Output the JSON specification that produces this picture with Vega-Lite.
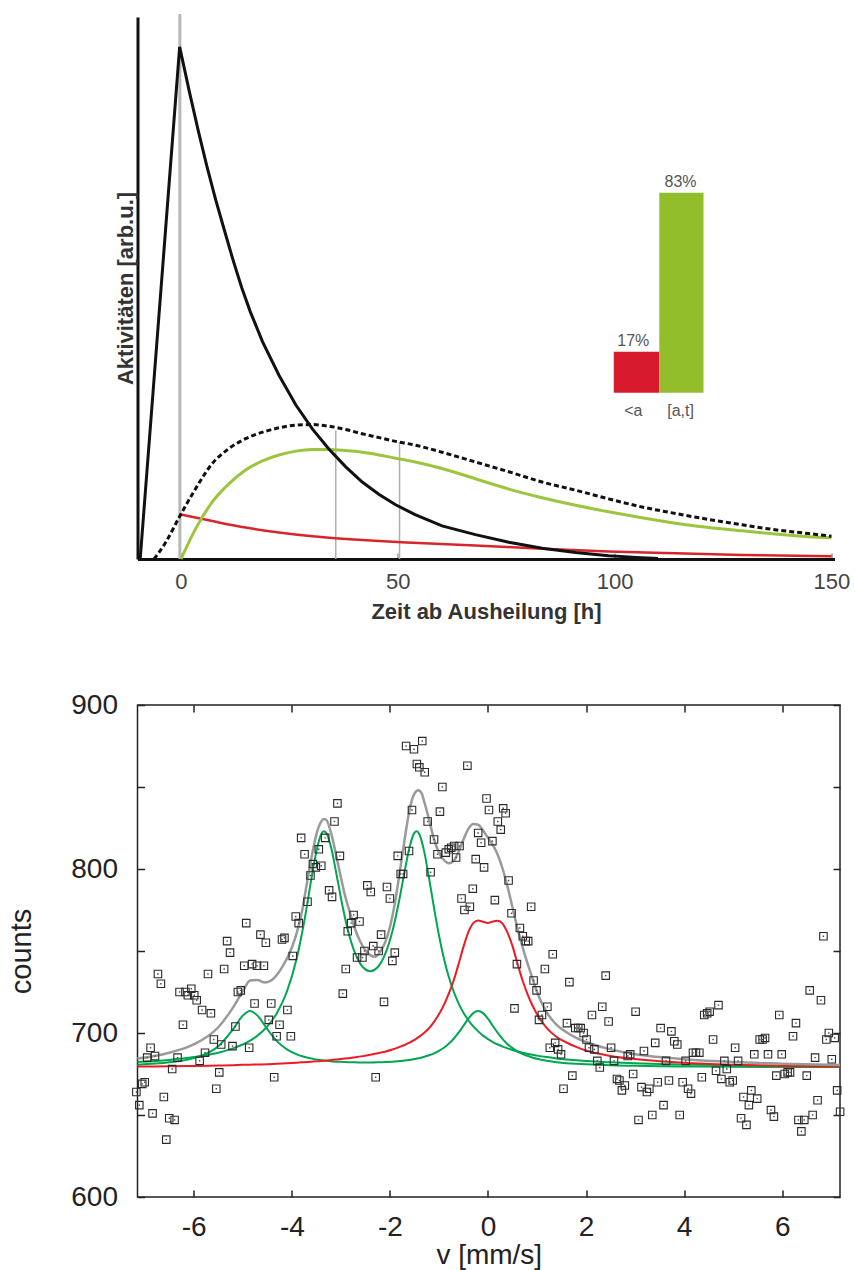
{
  "$schema": "https://vega.github.io/schema/vega-lite/v6.json",
  "background": "white",
  "padding": {"left": 6.5, "top": 12, "right": 5, "bottom": 5},
  "bounds": "flush",
  "spacing": 146,
  "config": {"view": {"stroke": null}, "font": "Liberation Sans"},
  "datasets": {
    "marker": [{"t": -0.25, "top": 100.55}],
    "drops": [{"t": 35.7, "top": 23.7}, {"t": 50.4, "top": 21.6}],
    "parent": [
      {"t": -9.4, "a": 0}, {"t": -0.3, "a": 94.5}, {"t": 2, "a": 86}, {"t": 4, "a": 79},
      {"t": 6, "a": 72.4}, {"t": 8, "a": 66.3}, {"t": 10, "a": 60.7}, {"t": 12, "a": 55.2},
      {"t": 14, "a": 50.1}, {"t": 16, "a": 45.6}, {"t": 18.8, "a": 40.1}, {"t": 22.6, "a": 33.9},
      {"t": 26.5, "a": 28.4}, {"t": 30.3, "a": 24.0}, {"t": 34.1, "a": 20.3}, {"t": 38, "a": 17.0},
      {"t": 41.8, "a": 14.2}, {"t": 45.7, "a": 11.9}, {"t": 49.5, "a": 10.0}, {"t": 54, "a": 8.2},
      {"t": 60.2, "a": 6.1}, {"t": 67.9, "a": 4.5}, {"t": 75.6, "a": 3.1}, {"t": 83.3, "a": 2.0},
      {"t": 91, "a": 1.2}, {"t": 98.6, "a": 0.6}, {"t": 105, "a": 0.3}, {"t": 110, "a": 0.1}
    ],
    "sum": [
      {"t": -6.2, "a": 0}, {"t": -3.5, "a": 3.1}, {"t": -0.4, "a": 7.7}, {"t": 3.4, "a": 13},
      {"t": 7.2, "a": 17.6}, {"t": 11.1, "a": 20.4}, {"t": 14.9, "a": 22.2}, {"t": 18.8, "a": 23.4},
      {"t": 22.6, "a": 24.2}, {"t": 26.5, "a": 24.7}, {"t": 30.3, "a": 24.8}, {"t": 34.1, "a": 24.5},
      {"t": 38, "a": 23.9}, {"t": 41.8, "a": 23.1}, {"t": 45.7, "a": 22.4}, {"t": 49.5, "a": 21.7},
      {"t": 53.5, "a": 21.1}, {"t": 60.2, "a": 19.7}, {"t": 67.9, "a": 17.9}, {"t": 75.6, "a": 16.1},
      {"t": 83.3, "a": 14.2}, {"t": 91, "a": 12.7}, {"t": 98.6, "a": 11.1}, {"t": 106.3, "a": 9.6},
      {"t": 114, "a": 8.4}, {"t": 121.7, "a": 7.3}, {"t": 129.4, "a": 6.3}, {"t": 137, "a": 5.4},
      {"t": 144.7, "a": 4.7}, {"t": 150, "a": 4.2}
    ],
    "late": [
      {"t": 0, "a": 0}, {"t": 3.4, "a": 5.6}, {"t": 7.2, "a": 10.5}, {"t": 11.1, "a": 13.9},
      {"t": 14.9, "a": 16.4}, {"t": 18.8, "a": 18.1}, {"t": 22.6, "a": 19.2}, {"t": 26.5, "a": 19.9},
      {"t": 30.3, "a": 20.2}, {"t": 34.1, "a": 20.2}, {"t": 38, "a": 20.0}, {"t": 41.8, "a": 19.7},
      {"t": 45.7, "a": 19.2}, {"t": 49.5, "a": 18.6}, {"t": 53.5, "a": 18.0}, {"t": 60.2, "a": 16.7},
      {"t": 67.9, "a": 14.8}, {"t": 75.6, "a": 12.9}, {"t": 83.3, "a": 11.3}, {"t": 91, "a": 9.9},
      {"t": 98.6, "a": 8.7}, {"t": 106.3, "a": 7.6}, {"t": 114, "a": 6.6}, {"t": 121.7, "a": 5.8},
      {"t": 129.4, "a": 5.2}, {"t": 137, "a": 4.6}, {"t": 144.7, "a": 4.1}, {"t": 150, "a": 3.9}
    ],
    "early": [
      {"t": 0, "a": 8.2}, {"t": 7.2, "a": 7.0}, {"t": 14.9, "a": 5.8}, {"t": 22.6, "a": 4.9},
      {"t": 30.3, "a": 4.2}, {"t": 38, "a": 3.7}, {"t": 45.7, "a": 3.3}, {"t": 53.5, "a": 3.0},
      {"t": 67.9, "a": 2.5}, {"t": 83.3, "a": 1.9}, {"t": 98.6, "a": 1.4}, {"t": 114, "a": 1.05},
      {"t": 129.4, "a": 0.75}, {"t": 150, "a": 0.5}
    ],
    "shares": [
      {"grp": "<a", "share": 0.17, "t0": 99.8, "t1": 110.3, "tmid": 104.3},
      {"grp": "[a,t]", "share": 0.83, "t0": 110.3, "t1": 120.5, "tmid": 115.2}
    ],
    "counts": [
      {"v": -7.17, "c": 664}, {"v": -7.11, "c": 656}, {"v": -7.05, "c": 669}, {"v": -7.0, "c": 670},
      {"v": -6.95, "c": 685}, {"v": -6.88, "c": 691}, {"v": -6.84, "c": 651}, {"v": -6.79, "c": 686},
      {"v": -6.73, "c": 736}, {"v": -6.67, "c": 730}, {"v": -6.61, "c": 661}, {"v": -6.56, "c": 635},
      {"v": -6.5, "c": 648}, {"v": -6.44, "c": 678}, {"v": -6.39, "c": 647}, {"v": -6.33, "c": 685},
      {"v": -6.29, "c": 725}, {"v": -6.22, "c": 705}, {"v": -6.17, "c": 725}, {"v": -6.12, "c": 723},
      {"v": -6.05, "c": 727}, {"v": -5.99, "c": 723}, {"v": -5.94, "c": 720}, {"v": -5.88, "c": 683},
      {"v": -5.83, "c": 714}, {"v": -5.77, "c": 688}, {"v": -5.71, "c": 736}, {"v": -5.65, "c": 712},
      {"v": -5.59, "c": 696}, {"v": -5.54, "c": 666}, {"v": -5.48, "c": 676}, {"v": -5.44, "c": 693},
      {"v": -5.38, "c": 739}, {"v": -5.32, "c": 756}, {"v": -5.26, "c": 749}, {"v": -5.21, "c": 692},
      {"v": -5.15, "c": 704}, {"v": -5.1, "c": 725}, {"v": -5.04, "c": 726}, {"v": -4.97, "c": 741},
      {"v": -4.93, "c": 767}, {"v": -4.87, "c": 691}, {"v": -4.81, "c": 742}, {"v": -4.76, "c": 718},
      {"v": -4.71, "c": 741}, {"v": -4.64, "c": 760}, {"v": -4.57, "c": 741}, {"v": -4.53, "c": 755},
      {"v": -4.47, "c": 708}, {"v": -4.42, "c": 718}, {"v": -4.36, "c": 673}, {"v": -4.31, "c": 698},
      {"v": -4.25, "c": 705}, {"v": -4.2, "c": 757}, {"v": -4.15, "c": 758}, {"v": -4.09, "c": 714},
      {"v": -4.02, "c": 698}, {"v": -3.98, "c": 747}, {"v": -3.92, "c": 771}, {"v": -3.86, "c": 767},
      {"v": -3.81, "c": 819}, {"v": -3.74, "c": 809}, {"v": -3.68, "c": 780}, {"v": -3.62, "c": 796},
      {"v": -3.57, "c": 803}, {"v": -3.51, "c": 801}, {"v": -3.45, "c": 812}, {"v": -3.4, "c": 802},
      {"v": -3.32, "c": 819}, {"v": -3.24, "c": 787}, {"v": -3.18, "c": 783}, {"v": -3.13, "c": 829},
      {"v": -3.07, "c": 840}, {"v": -3.02, "c": 808}, {"v": -2.96, "c": 724}, {"v": -2.9, "c": 739},
      {"v": -2.86, "c": 762}, {"v": -2.79, "c": 767}, {"v": -2.74, "c": 772}, {"v": -2.67, "c": 746},
      {"v": -2.62, "c": 768}, {"v": -2.56, "c": 746}, {"v": -2.52, "c": 750}, {"v": -2.46, "c": 790},
      {"v": -2.39, "c": 786}, {"v": -2.34, "c": 753}, {"v": -2.29, "c": 673}, {"v": -2.23, "c": 750},
      {"v": -2.18, "c": 760}, {"v": -2.12, "c": 719}, {"v": -2.06, "c": 789}, {"v": -2.0, "c": 782},
      {"v": -1.95, "c": 744}, {"v": -1.9, "c": 749}, {"v": -1.84, "c": 808}, {"v": -1.78, "c": 797},
      {"v": -1.73, "c": 797}, {"v": -1.67, "c": 875}, {"v": -1.61, "c": 811}, {"v": -1.55, "c": 836},
      {"v": -1.51, "c": 873}, {"v": -1.45, "c": 864}, {"v": -1.4, "c": 862}, {"v": -1.34, "c": 878},
      {"v": -1.29, "c": 859}, {"v": -1.23, "c": 829}, {"v": -1.17, "c": 798}, {"v": -1.1, "c": 818},
      {"v": -1.03, "c": 809}, {"v": -0.98, "c": 835}, {"v": -0.93, "c": 850}, {"v": -0.86, "c": 810},
      {"v": -0.8, "c": 812}, {"v": -0.75, "c": 813}, {"v": -0.69, "c": 814}, {"v": -0.65, "c": 807},
      {"v": -0.58, "c": 814}, {"v": -0.54, "c": 782}, {"v": -0.48, "c": 775}, {"v": -0.42, "c": 863},
      {"v": -0.37, "c": 777}, {"v": -0.31, "c": 788}, {"v": -0.25, "c": 806}, {"v": -0.2, "c": 822},
      {"v": -0.14, "c": 816}, {"v": -0.08, "c": 801}, {"v": -0.03, "c": 843}, {"v": 0.02, "c": 836},
      {"v": 0.09, "c": 817}, {"v": 0.14, "c": 781}, {"v": 0.2, "c": 829}, {"v": 0.26, "c": 824},
      {"v": 0.31, "c": 837}, {"v": 0.36, "c": 834}, {"v": 0.42, "c": 793}, {"v": 0.48, "c": 773},
      {"v": 0.54, "c": 715}, {"v": 0.59, "c": 742}, {"v": 0.65, "c": 764}, {"v": 0.71, "c": 759},
      {"v": 0.77, "c": 756}, {"v": 0.82, "c": 756}, {"v": 0.88, "c": 777}, {"v": 0.93, "c": 732},
      {"v": 0.99, "c": 726}, {"v": 1.04, "c": 708}, {"v": 1.1, "c": 711}, {"v": 1.16, "c": 739},
      {"v": 1.21, "c": 716}, {"v": 1.26, "c": 691}, {"v": 1.32, "c": 748}, {"v": 1.37, "c": 694},
      {"v": 1.43, "c": 690}, {"v": 1.49, "c": 687}, {"v": 1.54, "c": 666}, {"v": 1.61, "c": 706},
      {"v": 1.66, "c": 731}, {"v": 1.72, "c": 674}, {"v": 1.78, "c": 703}, {"v": 1.84, "c": 703},
      {"v": 1.89, "c": 703}, {"v": 1.95, "c": 700}, {"v": 2.01, "c": 696}, {"v": 2.06, "c": 691},
      {"v": 2.12, "c": 711}, {"v": 2.17, "c": 690}, {"v": 2.23, "c": 683}, {"v": 2.28, "c": 679},
      {"v": 2.33, "c": 716}, {"v": 2.4, "c": 735}, {"v": 2.46, "c": 707}, {"v": 2.51, "c": 691},
      {"v": 2.57, "c": 683}, {"v": 2.63, "c": 672}, {"v": 2.68, "c": 671}, {"v": 2.73, "c": 665},
      {"v": 2.79, "c": 668}, {"v": 2.85, "c": 686}, {"v": 2.9, "c": 687}, {"v": 2.96, "c": 675},
      {"v": 3.01, "c": 713}, {"v": 3.07, "c": 647}, {"v": 3.13, "c": 667}, {"v": 3.18, "c": 689},
      {"v": 3.24, "c": 664}, {"v": 3.29, "c": 666}, {"v": 3.35, "c": 650}, {"v": 3.41, "c": 694},
      {"v": 3.46, "c": 670}, {"v": 3.52, "c": 703}, {"v": 3.58, "c": 656}, {"v": 3.63, "c": 683},
      {"v": 3.69, "c": 671}, {"v": 3.74, "c": 701}, {"v": 3.8, "c": 695}, {"v": 3.86, "c": 693},
      {"v": 3.91, "c": 650}, {"v": 3.97, "c": 670}, {"v": 4.03, "c": 683}, {"v": 4.08, "c": 666},
      {"v": 4.14, "c": 663}, {"v": 4.18, "c": 688}, {"v": 4.24, "c": 688}, {"v": 4.31, "c": 688},
      {"v": 4.36, "c": 673}, {"v": 4.41, "c": 711}, {"v": 4.47, "c": 712}, {"v": 4.52, "c": 713},
      {"v": 4.59, "c": 696}, {"v": 4.65, "c": 677}, {"v": 4.7, "c": 717}, {"v": 4.76, "c": 672},
      {"v": 4.82, "c": 683}, {"v": 4.87, "c": 678}, {"v": 4.93, "c": 670}, {"v": 4.99, "c": 671},
      {"v": 5.04, "c": 691}, {"v": 5.1, "c": 683}, {"v": 5.16, "c": 648}, {"v": 5.21, "c": 661},
      {"v": 5.27, "c": 644}, {"v": 5.32, "c": 656}, {"v": 5.37, "c": 665}, {"v": 5.43, "c": 687},
      {"v": 5.49, "c": 660}, {"v": 5.54, "c": 696}, {"v": 5.6, "c": 696}, {"v": 5.65, "c": 697},
      {"v": 5.71, "c": 687}, {"v": 5.77, "c": 653}, {"v": 5.83, "c": 649}, {"v": 5.88, "c": 674},
      {"v": 5.94, "c": 711}, {"v": 5.99, "c": 687}, {"v": 6.05, "c": 675}, {"v": 6.11, "c": 676},
      {"v": 6.16, "c": 676}, {"v": 6.22, "c": 698}, {"v": 6.28, "c": 706}, {"v": 6.33, "c": 647},
      {"v": 6.39, "c": 640}, {"v": 6.45, "c": 647}, {"v": 6.5, "c": 674}, {"v": 6.56, "c": 726},
      {"v": 6.62, "c": 650}, {"v": 6.67, "c": 685}, {"v": 6.72, "c": 659}, {"v": 6.79, "c": 720},
      {"v": 6.84, "c": 759}, {"v": 6.9, "c": 696}, {"v": 6.95, "c": 700}, {"v": 7.01, "c": 684},
      {"v": 7.07, "c": 697}, {"v": 7.12, "c": 665}, {"v": 7.18, "c": 652}
    ],
    "fit": [
      {"v": -7.15, "g1": 682.3, "g2": 680.7, "red": 679.5},
      {"v": -6.5, "g1": 683.6, "g2": 682.1, "red": 679.7},
      {"v": -6.0, "g1": 685.3, "g2": 684.7, "red": 679.9},
      {"v": -5.5, "g1": 688.0, "g2": 691.9, "red": 680.2},
      {"v": -5.2, "g1": 690.6, "g2": 702.2, "red": 680.4},
      {"v": -5.0, "g1": 693.0, "g2": 710.6, "red": 680.6},
      {"v": -4.85, "g1": 695.4, "g2": 713.4, "red": 680.7},
      {"v": -4.7, "g1": 698.4, "g2": 710.6, "red": 680.8},
      {"v": -4.5, "g1": 704.0, "g2": 702.3, "red": 681.0},
      {"v": -4.3, "g1": 712.4, "g2": 694.9, "red": 681.3},
      {"v": -4.1, "g1": 725.3, "g2": 690.0, "red": 681.6},
      {"v": -3.9, "g1": 745.6, "g2": 687.0, "red": 681.9},
      {"v": -3.75, "g1": 767.5, "g2": 685.5, "red": 682.2},
      {"v": -3.6, "g1": 794.1, "g2": 684.4, "red": 682.5},
      {"v": -3.5, "g1": 810.6, "g2": 683.9, "red": 682.7},
      {"v": -3.4, "g1": 821.2, "g2": 683.4, "red": 683.0},
      {"v": -3.35, "g1": 823.0, "g2": 683.2, "red": 683.1},
      {"v": -3.3, "g1": 822.1, "g2": 683.1, "red": 683.2},
      {"v": -3.2, "g1": 813.2, "g2": 682.8, "red": 683.5},
      {"v": -3.1, "g1": 798.5, "g2": 682.5, "red": 683.8},
      {"v": -3.0, "g1": 782.5, "g2": 682.4, "red": 684.1},
      {"v": -2.85, "g1": 761.9, "g2": 682.2, "red": 684.6},
      {"v": -2.7, "g1": 747.9, "g2": 682.1, "red": 685.2},
      {"v": -2.55, "g1": 740.1, "g2": 682.0, "red": 685.9},
      {"v": -2.4, "g1": 737.7, "g2": 682.0, "red": 686.7},
      {"v": -2.25, "g1": 740.1, "g2": 682.1, "red": 687.6},
      {"v": -2.1, "g1": 747.9, "g2": 682.3, "red": 688.6},
      {"v": -1.95, "g1": 761.9, "g2": 682.5, "red": 689.9},
      {"v": -1.8, "g1": 782.5, "g2": 682.9, "red": 691.5},
      {"v": -1.7, "g1": 798.5, "g2": 683.2, "red": 692.7},
      {"v": -1.6, "g1": 813.2, "g2": 683.6, "red": 694.1},
      {"v": -1.5, "g1": 822.1, "g2": 684.1, "red": 695.8},
      {"v": -1.45, "g1": 823.0, "g2": 684.4, "red": 696.8},
      {"v": -1.4, "g1": 821.2, "g2": 684.7, "red": 697.8},
      {"v": -1.3, "g1": 810.6, "g2": 685.5, "red": 700.2},
      {"v": -1.2, "g1": 794.1, "g2": 686.4, "red": 703.0},
      {"v": -1.1, "g1": 776.1, "g2": 687.6, "red": 706.8},
      {"v": -1.0, "g1": 759.6, "g2": 689.1, "red": 711.5},
      {"v": -0.9, "g1": 745.6, "g2": 691.0, "red": 717.0},
      {"v": -0.8, "g1": 734.3, "g2": 693.4, "red": 724.0},
      {"v": -0.7, "g1": 725.3, "g2": 696.5, "red": 732.0},
      {"v": -0.6, "g1": 718.1, "g2": 700.2, "red": 742.0},
      {"v": -0.5, "g1": 712.4, "g2": 704.4, "red": 752.5},
      {"v": -0.4, "g1": 707.8, "g2": 708.7, "red": 761.5},
      {"v": -0.3, "g1": 704.0, "g2": 712.1, "red": 767.0},
      {"v": -0.2, "g1": 701.0, "g2": 713.4, "red": 768.6},
      {"v": -0.1, "g1": 698.4, "g2": 712.1, "red": 767.8},
      {"v": 0.0, "g1": 696.3, "g2": 708.7, "red": 767.1},
      {"v": 0.1, "g1": 694.5, "g2": 704.3, "red": 768.0},
      {"v": 0.2, "g1": 693.0, "g2": 700.1, "red": 768.4},
      {"v": 0.3, "g1": 691.7, "g2": 696.3, "red": 766.5},
      {"v": 0.4, "g1": 690.6, "g2": 693.2, "red": 761.0},
      {"v": 0.5, "g1": 689.6, "g2": 690.8, "red": 753.0},
      {"v": 0.6, "g1": 688.7, "g2": 688.8, "red": 742.5},
      {"v": 0.7, "g1": 688.0, "g2": 687.3, "red": 732.5},
      {"v": 0.8, "g1": 687.3, "g2": 686.1, "red": 724.2},
      {"v": 0.9, "g1": 686.7, "g2": 685.1, "red": 717.2},
      {"v": 1.0, "g1": 686.2, "g2": 684.3, "red": 711.5},
      {"v": 1.2, "g1": 685.3, "g2": 683.1, "red": 703.0},
      {"v": 1.4, "g1": 684.5, "g2": 682.2, "red": 697.6},
      {"v": 1.6, "g1": 683.9, "g2": 681.6, "red": 694.2},
      {"v": 1.8, "g1": 683.4, "g2": 681.2, "red": 691.5},
      {"v": 2.0, "g1": 683.0, "g2": 680.9, "red": 689.3},
      {"v": 2.5, "g1": 682.1, "g2": 680.3, "red": 686.0},
      {"v": 3.0, "g1": 681.5, "g2": 680.0, "red": 684.1},
      {"v": 3.5, "g1": 681.1, "g2": 679.7, "red": 682.8},
      {"v": 4.0, "g1": 680.8, "g2": 679.6, "red": 681.8},
      {"v": 5.0, "g1": 680.3, "g2": 679.4, "red": 680.6},
      {"v": 6.0, "g1": 680.0, "g2": 679.3, "red": 679.9},
      {"v": 7.18, "g1": 679.8, "g2": 679.2, "red": 679.5}
    ],
    "total": [
      {"v": -7.15, "c": 684.4}, {"v": -6.8, "c": 686}, {"v": -6.5, "c": 688}, {"v": -6.0, "c": 693},
      {"v": -5.5, "c": 703.5}, {"v": -5.2, "c": 715.5}, {"v": -5.0, "c": 725.5}, {"v": -4.85, "c": 732},
      {"v": -4.7, "c": 732.3}, {"v": -4.55, "c": 730.8}, {"v": -4.4, "c": 732.5}, {"v": -4.2, "c": 740},
      {"v": -4.0, "c": 752}, {"v": -3.9, "c": 761}, {"v": -3.8, "c": 773}, {"v": -3.7, "c": 790},
      {"v": -3.6, "c": 807}, {"v": -3.5, "c": 821}, {"v": -3.4, "c": 829}, {"v": -3.35, "c": 830.5},
      {"v": -3.3, "c": 830}, {"v": -3.2, "c": 822}, {"v": -3.1, "c": 809}, {"v": -3.0, "c": 795},
      {"v": -2.9, "c": 782}, {"v": -2.8, "c": 772}, {"v": -2.7, "c": 762.5}, {"v": -2.6, "c": 755.5},
      {"v": -2.5, "c": 750.5}, {"v": -2.4, "c": 747.5}, {"v": -2.3, "c": 746.5}, {"v": -2.2, "c": 749.5},
      {"v": -2.1, "c": 755}, {"v": -2.0, "c": 764.5}, {"v": -1.9, "c": 779}, {"v": -1.8, "c": 798},
      {"v": -1.7, "c": 818}, {"v": -1.6, "c": 836}, {"v": -1.5, "c": 846}, {"v": -1.42, "c": 848},
      {"v": -1.35, "c": 846}, {"v": -1.3, "c": 841}, {"v": -1.2, "c": 830}, {"v": -1.1, "c": 818},
      {"v": -1.0, "c": 810}, {"v": -0.9, "c": 805.5}, {"v": -0.8, "c": 803.5}, {"v": -0.7, "c": 805},
      {"v": -0.6, "c": 810.5}, {"v": -0.5, "c": 818}, {"v": -0.4, "c": 824.5}, {"v": -0.3, "c": 827.5},
      {"v": -0.2, "c": 827}, {"v": -0.1, "c": 823.5}, {"v": 0.0, "c": 819}, {"v": 0.1, "c": 814.5},
      {"v": 0.2, "c": 808.5}, {"v": 0.3, "c": 800}, {"v": 0.4, "c": 789}, {"v": 0.5, "c": 776.5},
      {"v": 0.6, "c": 764}, {"v": 0.7, "c": 753}, {"v": 0.8, "c": 743}, {"v": 0.9, "c": 734},
      {"v": 1.0, "c": 725}, {"v": 1.2, "c": 712.5}, {"v": 1.4, "c": 705}, {"v": 1.6, "c": 700.5},
      {"v": 1.8, "c": 697}, {"v": 2.0, "c": 694.5}, {"v": 2.5, "c": 690}, {"v": 3.0, "c": 687},
      {"v": 3.5, "c": 685.3}, {"v": 4.0, "c": 684}, {"v": 5.0, "c": 682.3}, {"v": 6.0, "c": 681.3},
      {"v": 7.18, "c": 680.5}
    ]
  },
  "vconcat": [
    {
      "width": 697,
      "height": 542,
      "resolve": {"scale": {"x": "independent", "y": "independent"}},
      "layer": [
        {
          "data": {"name": "marker"},
          "mark": {"type": "rule", "color": "#b8b8b8", "strokeWidth": 3},
          "encoding": {
            "x": {"field": "t", "type": "quantitative", "scale": {"domain": [-10.02, 150.7], "nice": false, "zero": false}, "axis": null},
            "y": {"field": "top", "type": "quantitative", "scale": {"domain": [0, 100], "nice": false, "zero": false}, "axis": null},
            "y2": {"datum": 0}
          }
        },
        {
          "data": {"name": "drops"},
          "mark": {"type": "rule", "color": "#b0b0b0", "strokeWidth": 1.5},
          "encoding": {
            "x": {"field": "t", "type": "quantitative", "scale": {"domain": [-10.02, 150.7], "nice": false, "zero": false}, "axis": null},
            "y": {"field": "top", "type": "quantitative", "scale": {"domain": [0, 100], "nice": false, "zero": false}, "axis": null},
            "y2": {"datum": 0}
          }
        },
        {
          "data": {"name": "early"},
          "mark": {"type": "line", "color": "#d7262b", "strokeWidth": 2.5, "interpolate": "monotone"},
          "encoding": {
            "x": {"field": "t", "type": "quantitative", "scale": {"domain": [-10.02, 150.7], "nice": false, "zero": false}, "axis": null},
            "y": {"field": "a", "type": "quantitative", "scale": {"domain": [0, 100], "nice": false, "zero": false}, "axis": null}
          }
        },
        {
          "data": {"name": "late"},
          "mark": {"type": "line", "color": "#9cc53f", "strokeWidth": 3, "interpolate": "monotone"},
          "encoding": {
            "x": {"field": "t", "type": "quantitative", "scale": {"domain": [-10.02, 150.7], "nice": false, "zero": false}, "axis": null},
            "y": {"field": "a", "type": "quantitative", "scale": {"domain": [0, 100], "nice": false, "zero": false}, "axis": null}
          }
        },
        {
          "data": {"name": "sum"},
          "mark": {"type": "line", "color": "#111", "strokeWidth": 3, "strokeDash": [5, 3], "interpolate": "monotone"},
          "encoding": {
            "x": {"field": "t", "type": "quantitative", "scale": {"domain": [-10.02, 150.7], "nice": false, "zero": false}, "axis": null},
            "y": {"field": "a", "type": "quantitative", "scale": {"domain": [0, 100], "nice": false, "zero": false}, "axis": null}
          }
        },
        {
          "data": {"name": "parent"},
          "mark": {"type": "line", "color": "#111", "strokeWidth": 3, "interpolate": "linear"},
          "encoding": {
            "x": {
              "field": "t", "type": "quantitative",
              "scale": {"domain": [-10.02, 150.7], "nice": false, "zero": false},
              "axis": {
                "orient": "bottom",
                "title": "Zeit ab Ausheilung [h]", "titleFontWeight": "bold", "titleFontSize": 22,
                "titleColor": "#333", "titlePadding": 9,
                "values": [0, 50, 100, 150], "labelFontSize": 22, "labelColor": "#444",
                "labelPadding": 18, "labelFlush": false, "labelOverlap": false,
                "domain": true, "domainColor": "#111", "domainWidth": 3,
                "ticks": true, "tickSize": -6, "tickColor": "#999", "tickWidth": 1.5, "grid": false
              }
            },
            "y": {
              "field": "a", "type": "quantitative",
              "scale": {"domain": [0, 100], "nice": false, "zero": false},
              "axis": {
                "orient": "left",
                "title": "Aktivitäten [arb.u.]", "titleFontWeight": "bold", "titleFontSize": 22,
                "titleColor": "#333", "titlePadding": 0,
                "labels": false, "ticks": false, "grid": false,
                "domain": true, "domainColor": "#111", "domainWidth": 3
              }
            }
          }
        },
        {
          "data": {"name": "shares"},
          "mark": {"type": "rect"},
          "encoding": {
            "x": {"field": "t0", "type": "quantitative", "scale": {"domain": [-10.02, 150.7], "nice": false, "zero": false}, "axis": null},
            "x2": {"field": "t1"},
            "y": {"field": "share", "type": "quantitative", "scale": {"domain": [-0.69, 1.559], "nice": false, "zero": false}, "axis": null},
            "y2": {"datum": 0},
            "color": {"field": "grp", "type": "nominal", "scale": {"domain": ["<a", "[a,t]"], "range": ["#d81b2c", "#93be2b"]}, "legend": null}
          }
        },
        {
          "data": {"name": "shares"},
          "mark": {"type": "text", "fontSize": 16, "color": "#555", "dy": -11, "baseline": "middle"},
          "encoding": {
            "x": {"field": "tmid", "type": "quantitative", "scale": {"domain": [-10.02, 150.7], "nice": false, "zero": false}, "axis": null},
            "y": {"field": "share", "type": "quantitative", "scale": {"domain": [-0.69, 1.559], "nice": false, "zero": false}, "axis": null},
            "text": {"field": "share", "type": "quantitative", "format": ".0%"}
          }
        },
        {
          "data": {"name": "shares"},
          "mark": {"type": "text", "fontSize": 16, "color": "#555", "dy": 18.5, "baseline": "middle"},
          "encoding": {
            "x": {"field": "tmid", "type": "quantitative", "scale": {"domain": [-10.02, 150.7], "nice": false, "zero": false}, "axis": null},
            "y": {"datum": 0, "type": "quantitative", "scale": {"domain": [-0.69, 1.559], "nice": false, "zero": false}, "axis": null},
            "text": {"field": "grp", "type": "nominal"}
          }
        }
      ]
    },
    {
      "width": 702.5,
      "height": 492,
      "view": {"stroke": "#222", "strokeWidth": 1.5},
      "layer": [
        {
          "data": {"name": "fit"},
          "mark": {"type": "line", "color": "#00a651", "strokeWidth": 2, "interpolate": "monotone"},
          "encoding": {
            "x": {"field": "v", "type": "quantitative", "scale": {"domain": [-7.147, 7.178], "nice": false, "zero": false}, "axis": null},
            "y": {"field": "g1", "type": "quantitative", "scale": {"domain": [600, 900], "nice": false, "zero": false}, "axis": null}
          }
        },
        {
          "data": {"name": "fit"},
          "mark": {"type": "line", "color": "#00a651", "strokeWidth": 2, "interpolate": "monotone"},
          "encoding": {
            "x": {"field": "v", "type": "quantitative", "axis": null},
            "y": {"field": "g2", "type": "quantitative", "axis": null}
          }
        },
        {
          "data": {"name": "fit"},
          "mark": {"type": "line", "color": "#ed1c24", "strokeWidth": 2, "interpolate": "monotone"},
          "encoding": {
            "x": {"field": "v", "type": "quantitative", "axis": null},
            "y": {"field": "red", "type": "quantitative", "axis": null}
          }
        },
        {
          "data": {"name": "total"},
          "mark": {"type": "line", "color": "#9a9a9a", "strokeWidth": 2.5, "interpolate": "monotone"},
          "encoding": {
            "x": {
              "field": "v", "type": "quantitative",
              "axis": {"orient": "top", "values": [-6, -4, -2, 0, 2, 4, 6], "labels": false, "title": null,
                       "domain": false, "grid": false, "tickSize": -7, "tickColor": "#222", "tickWidth": 1.5}
            },
            "y": {
              "field": "c", "type": "quantitative",
              "axis": {"orient": "right", "values": [600, 650, 700, 750, 800, 850, 900], "labels": false, "title": null,
                       "domain": false, "grid": false, "tickSize": -7, "tickColor": "#222", "tickWidth": 1.5}
            }
          }
        },
        {
          "data": {"name": "counts"},
          "mark": {"type": "point", "shape": "square", "size": 56, "filled": false, "stroke": "#2a2a2a", "strokeWidth": 1.1, "opacity": 1},
          "encoding": {
            "x": {
              "field": "v", "type": "quantitative",
              "axis": {"orient": "bottom", "values": [-6, -4, -2, 0, 2, 4, 6],
                       "labelExpr": "datum.value < 0 ? '-' + abs(datum.value) : '' + datum.value",
                       "title": "v [mm/s]", "titleFontSize": 28, "titleFontWeight": "normal", "titleColor": "#222",
                       "titlePadding": 0, "labelFontSize": 28, "labelColor": "#222", "labelPadding": 23,
                       "labelFlush": false, "labelOverlap": false,
                       "domain": false, "grid": false, "tickSize": -7, "tickColor": "#222", "tickWidth": 1.5}
            },
            "y": {
              "field": "c", "type": "quantitative",
              "axis": {"orient": "left", "values": [600, 650, 700, 750, 800, 850, 900],
                       "labelExpr": "datum.value % 100 === 0 ? datum.label : ''",
                       "title": "counts", "titleFontSize": 29, "titleFontWeight": "normal", "titleColor": "#222",
                       "titlePadding": 34, "labelFontSize": 28, "labelColor": "#222", "labelPadding": 27,
                       "labelFlush": false, "labelOverlap": false,
                       "domain": false, "grid": false, "tickSize": -7, "tickColor": "#222", "tickWidth": 1.5}
            }
          }
        },
        {
          "data": {"name": "counts"},
          "mark": {"type": "point", "shape": "square", "size": 2, "filled": true, "color": "#444", "opacity": 1},
          "encoding": {
            "x": {"field": "v", "type": "quantitative", "axis": null},
            "y": {"field": "c", "type": "quantitative", "axis": null}
          }
        }
      ]
    }
  ]
}
